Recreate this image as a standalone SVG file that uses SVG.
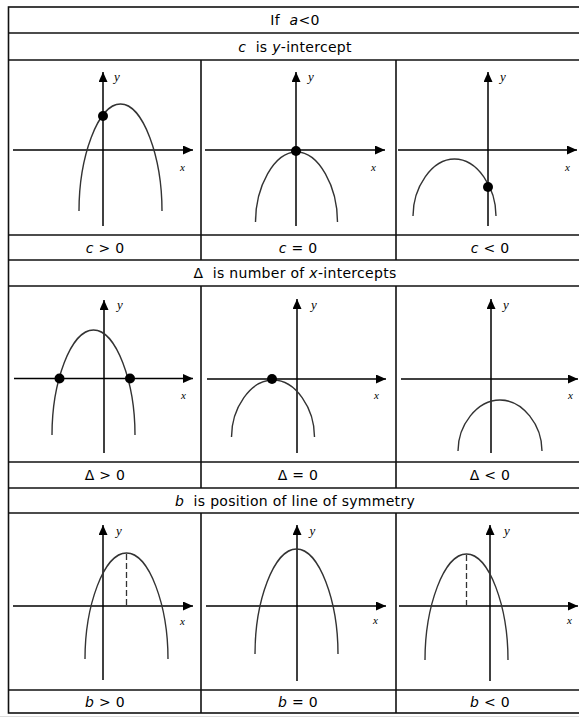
<svg xmlns="http://www.w3.org/2000/svg" width="579" height="719" viewBox="0 0 579 719">
<style>
.grid{stroke:#111;stroke-width:1.6;fill:none}
.ax{stroke:#000;stroke-width:1.5;fill:none}
.cv{stroke:#333;stroke-width:1.4;fill:none}
.dash{stroke:#333;stroke-width:1.3;stroke-dasharray:6 3;fill:none}
.dot{fill:#000}
.t{font-family:"DejaVu Sans","Liberation Sans",sans-serif;font-size:14px;letter-spacing:0.3px;fill:#000;text-anchor:middle}
.i{font-style:italic}
.ly{font-family:"Liberation Serif","Times New Roman",serif;font-style:italic;font-size:13px;fill:#000}
.lx{font-family:"Liberation Serif","Times New Roman",serif;font-style:italic;font-size:11px;fill:#000}
</style>
<defs>
<marker id="arr" markerUnits="userSpaceOnUse" markerWidth="11" markerHeight="10" refX="10" refY="4.5" orient="auto">
<path d="M0,0 L10,4.5 L0,9 z" fill="#000"/>
</marker>
</defs>
<rect width="579" height="719" fill="#fff"/>
<g id="table">
<rect class="grid" x="8.5" y="7" width="575" height="706"/>
<line class="grid" x1="8.5" y1="33" x2="583" y2="33"/>
<line class="grid" x1="8.5" y1="60" x2="583" y2="60"/>
<line class="grid" x1="8.5" y1="235" x2="583" y2="235"/>
<line class="grid" x1="8.5" y1="260" x2="583" y2="260"/>
<line class="grid" x1="8.5" y1="286" x2="583" y2="286"/>
<line class="grid" x1="8.5" y1="462" x2="583" y2="462"/>
<line class="grid" x1="8.5" y1="488" x2="583" y2="488"/>
<line class="grid" x1="8.5" y1="513" x2="583" y2="513"/>
<line class="grid" x1="8.5" y1="690" x2="583" y2="690"/>
<line class="grid" x1="201" y1="60" x2="201" y2="260"/>
<line class="grid" x1="396" y1="60" x2="396" y2="260"/>
<line class="grid" x1="201" y1="286" x2="201" y2="488"/>
<line class="grid" x1="396" y1="286" x2="396" y2="488"/>
<line class="grid" x1="201" y1="513" x2="201" y2="713"/>
<line class="grid" x1="396" y1="513" x2="396" y2="713"/>
<line x1="0" y1="716.5" x2="579" y2="716.5" stroke="#ddd" stroke-width="1"/>
</g>
<g id="headers">
<text class="t" x="295" y="25" xml:space="preserve">If  <tspan class="i">a</tspan>&lt;0</text>
<text class="t" x="295" y="52" xml:space="preserve"><tspan class="i">c</tspan>  is <tspan class="i">y</tspan>-intercept</text>
<text class="t" x="295" y="278" xml:space="preserve">Δ  is number of <tspan class="i">x</tspan>-intercepts</text>
<text class="t" x="295" y="506" xml:space="preserve"><tspan class="i">b</tspan>  is position of line of symmetry</text>
</g>
<g id="labels">
<text class="t" x="105" y="253"><tspan class="i">c</tspan> &gt; 0</text>
<text class="t" x="298" y="253"><tspan class="i">c</tspan> = 0</text>
<text class="t" x="490" y="253"><tspan class="i">c</tspan> &lt; 0</text>
<text class="t" x="105" y="480">Δ &gt; 0</text>
<text class="t" x="298" y="480">Δ = 0</text>
<text class="t" x="490" y="480">Δ &lt; 0</text>
<text class="t" x="105" y="707"><tspan class="i">b</tspan> &gt; 0</text>
<text class="t" x="298" y="707"><tspan class="i">b</tspan> = 0</text>
<text class="t" x="490" y="707"><tspan class="i">b</tspan> &lt; 0</text>
</g>
<g id="panel-c-pos">
<line class="ax" x1="103" y1="226" x2="103" y2="72" marker-end="url(#arr)"/>
<line class="ax" x1="13" y1="150" x2="193" y2="150" marker-end="url(#arr)"/>
<path class="cv" d="M79,211 C79,157.5 97.7,104 120.5,104 C143.3,104 162,157.5 162,211"/>
<circle class="dot" cx="103" cy="116" r="5"/>
<text class="ly" x="114" y="81">y</text>
<text class="lx" x="180" y="171">x</text>
</g>
<g id="panel-c-zero">
<line class="ax" x1="296" y1="226" x2="296" y2="72" marker-end="url(#arr)"/>
<line class="ax" x1="205" y1="150" x2="385" y2="150" marker-end="url(#arr)"/>
<path class="cv" d="M255.5,222 C255.5,187 274,152 296.5,152 C319,152 337.5,187 337.5,222"/>
<circle class="dot" cx="296" cy="151" r="5"/>
<text class="ly" x="308" y="81">y</text>
<text class="lx" x="371" y="171">x</text>
</g>
<g id="panel-c-neg">
<line class="ax" x1="488" y1="226" x2="488" y2="72" marker-end="url(#arr)"/>
<line class="ax" x1="398" y1="150" x2="577" y2="150" marker-end="url(#arr)"/>
<path class="cv" d="M413,216 C413,187.5 431.7,159 454.5,159 C477.3,159 496,187.5 496,216"/>
<circle class="dot" cx="488" cy="187" r="5"/>
<text class="ly" x="500" y="81">y</text>
<text class="lx" x="565" y="171">x</text>
</g>
<g id="panel-d-pos">
<line class="ax" x1="104" y1="453" x2="104" y2="300" marker-end="url(#arr)"/>
<line class="ax" x1="14" y1="378.5" x2="193" y2="378.5" marker-end="url(#arr)"/>
<path class="cv" d="M52,435 C52,382.5 70.7,330 93.5,330 C116.3,330 135,382.5 135,435"/>
<circle class="dot" cx="59.5" cy="378.5" r="5"/>
<circle class="dot" cx="130" cy="378.5" r="5"/>
<text class="ly" x="117" y="309">y</text>
<text class="lx" x="181" y="399">x</text>
</g>
<g id="panel-d-zero">
<line class="ax" x1="297" y1="453" x2="297" y2="299" marker-end="url(#arr)"/>
<line class="ax" x1="207" y1="379" x2="386" y2="379" marker-end="url(#arr)"/>
<path class="cv" d="M231.5,437 C231.5,408.5 250.2,380 273,380 C295.8,380 314.5,408.5 314.5,437"/>
<circle class="dot" cx="272" cy="379" r="5"/>
<text class="ly" x="311" y="309">y</text>
<text class="lx" x="374" y="399">x</text>
</g>
<g id="panel-d-neg">
<line class="ax" x1="491" y1="453" x2="491" y2="299" marker-end="url(#arr)"/>
<line class="ax" x1="401" y1="379" x2="578" y2="379" marker-end="url(#arr)"/>
<path class="cv" d="M458,451 C458,425.5 476.9,400 500,400 C523.1,400 542,425.5 542,451"/>
<text class="ly" x="503" y="309">y</text>
<text class="lx" x="568" y="399">x</text>
</g>
<g id="panel-b-pos">
<line class="ax" x1="103" y1="680" x2="103" y2="525" marker-end="url(#arr)"/>
<line class="ax" x1="13" y1="606" x2="193" y2="606" marker-end="url(#arr)"/>
<path class="cv" d="M85,659 C85,606 103.7,553 126.5,553 C149.3,553 168,606 168,659"/>
<line class="dash" x1="126.5" y1="554" x2="126.5" y2="606"/>
<text class="ly" x="116" y="535">y</text>
<text class="lx" x="180" y="625">x</text>
</g>
<g id="panel-b-zero">
<line class="ax" x1="297" y1="681" x2="297" y2="525" marker-end="url(#arr)"/>
<line class="ax" x1="206" y1="606" x2="386" y2="606" marker-end="url(#arr)"/>
<path class="cv" d="M255,654 C255,601.5 273.7,549 296.5,549 C319.3,549 338,601.5 338,654"/>
<text class="ly" x="309.5" y="535">y</text>
<text class="lx" x="373" y="624">x</text>
</g>
<g id="panel-b-neg">
<line class="ax" x1="490" y1="681" x2="490" y2="525" marker-end="url(#arr)"/>
<line class="ax" x1="399" y1="606" x2="578" y2="606" marker-end="url(#arr)"/>
<path class="cv" d="M425,660 C425,607 443.7,554 466.5,554 C489.3,554 508,607 508,660"/>
<line class="dash" x1="466.5" y1="555" x2="466.5" y2="606"/>
<text class="ly" x="504" y="535">y</text>
<text class="lx" x="567" y="624">x</text>
</g>
</svg>
